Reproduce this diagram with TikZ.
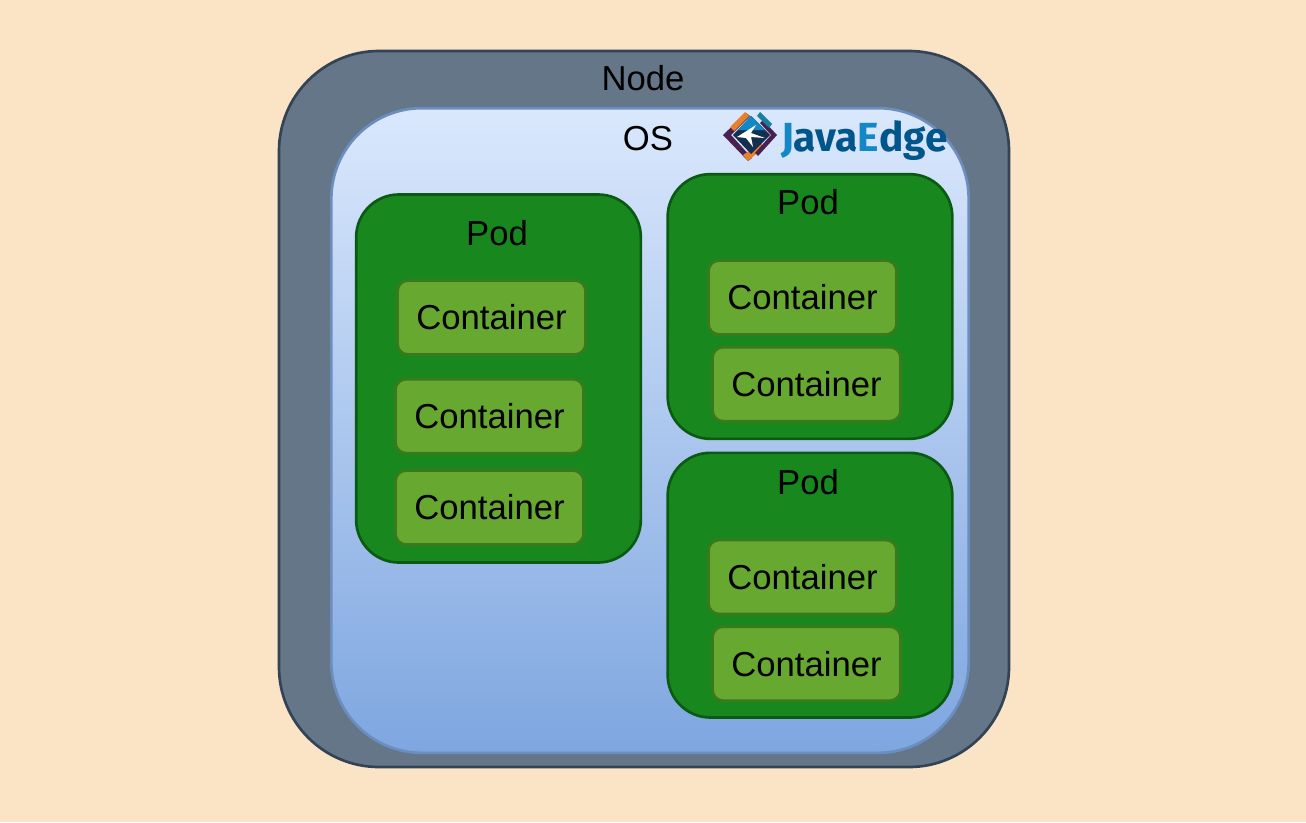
\documentclass[tikz,border=0pt]{standalone}
\usepackage{fontspec}
\setmainfont{Liberation Sans}
\newfontfamily\logofont{Fira Sans}
\usepackage{xcolor}
\usetikzlibrary{positioning}
\definecolor{pagepeach}{HTML}{FBE3C6}
\definecolor{nodefill}{HTML}{647687}
\definecolor{nodeline}{HTML}{314354}
\definecolor{ostop}{HTML}{DAE8FC}
\definecolor{osbottom}{HTML}{7EA6E0}
\definecolor{osline}{HTML}{6C8EBF}
\definecolor{podfill}{HTML}{18881E}
\definecolor{podline}{HTML}{0B5A14}
\definecolor{ctrfill}{HTML}{66A830}
\definecolor{ctrline}{HTML}{3A7A1C}
\definecolor{logolight}{HTML}{1488C4}
\definecolor{logodark}{HTML}{00568A}
\definecolor{logoorange}{HTML}{E8812C}
\definecolor{logopurple}{HTML}{4A2050}
\definecolor{logoteal}{HTML}{1A7F9E}
\definecolor{logonavy}{HTML}{14304E}

\begin{document}
\begin{tikzpicture}[
    x=0.75pt, y=-0.75pt,
    outer sep=0pt,
    label/.style={font=\fontsize{26}{30}\selectfont, text=black, inner sep=0pt},
    nodebox/.style={rectangle, draw=nodeline, fill=nodefill, line width=2pt, minimum width=547.5pt, minimum height=537pt, rounded corners=75pt},
    osbox/.style={rectangle, draw=osline, top color=ostop, bottom color=osbottom, line width=2pt, minimum width=478pt, minimum height=483.5pt, rounded corners=68pt},
    podbox/.style={rectangle, draw=podline, fill=podfill, line width=2pt, minimum width=213.5pt, rounded corners=32pt},
    ctrbox/.style={rectangle, draw=ctrline, fill=ctrfill, line width=2pt, minimum width=141pt, minimum height=55.5pt, rounded corners=8pt, label}
]
\fill[pagepeach] (0,0) rectangle (1306,822);
\useasboundingbox (0,0) rectangle (1306,822);

\node[nodebox] (node) at (644,409) {};
\node[osbox] (os) at (650,430.5) {};
\node[label] (nodetext) at (643,78) {Node};
\node[label] (ostext) at (648,139) {OS};

% left pod
\node[podbox, minimum height=276pt] (poda) at (498.5,378.5) {};
\node[label] (podatext) at (497,233) {Pod};
\node[ctrbox] (ctra) at (491.5,317.5) {Container};
\node[ctrbox, below=18.5pt of ctra.south, anchor=north, xshift=-1.5pt] (ctrb) {Container};
\node[ctrbox, below=13pt of ctrb] (ctrc) {Container};

% right pods
\node[podbox, minimum height=198.5pt] (podb) at (810,306.5) {};
\node[label] (podbtext) at (808,202) {Pod};
\node[ctrbox] (ctrd) at (802.5,297.5) {Container};
\node[ctrbox, below=9.5pt of ctrd, xshift=3pt] (ctre) {Container};

\node[podbox, minimum height=198.5pt, below=10.5pt of podb] (podc) {};
\node[label] (podctext) at (808,482) {Pod};
\node[ctrbox] (ctrf) at (802.5,577) {Container};
\node[ctrbox, below=9.5pt of ctrf, xshift=3pt] (ctrg) {Container};

% logo
\fill[logopurple] (723,135) -- (746,113) -- (750,116) -- (731,135) -- (752,158) -- (748,161) -- cycle;
\fill[logoorange] (730,127) -- (745,112) -- (749,116) -- (734,131) -- cycle;
\fill[logoorange] (743,155) -- (761,143) -- (764,147) -- (748,161) -- cycle;
\fill[logopurple] (777,135) -- (763,120) -- (760,123) -- (771,135) -- (755,153) -- (758,156) -- cycle;
\fill[logoteal] (760,112) -- (772,124) -- (769,128) -- (757,116) -- cycle;
\fill[logonavy] (733,135) -- (751,116) -- (770,135) -- (751,154) -- cycle;
\fill[logolight] (738,130) -- (751,116) -- (765,130) -- cycle;
\fill[white] (737,137) -- (756,125) -- (751,133) -- (765,138) -- (751,137) -- (753,147) -- (746,138) -- cycle;
\node[inner sep=0pt, anchor=base west, font=\logofont\bfseries\fontsize{30.5}{33}\selectfont, text=logodark] (logotext) at (781,151) {\textcolor{logolight}{J}ava\textcolor{logolight}{E}dge};
\end{tikzpicture}
\end{document}
